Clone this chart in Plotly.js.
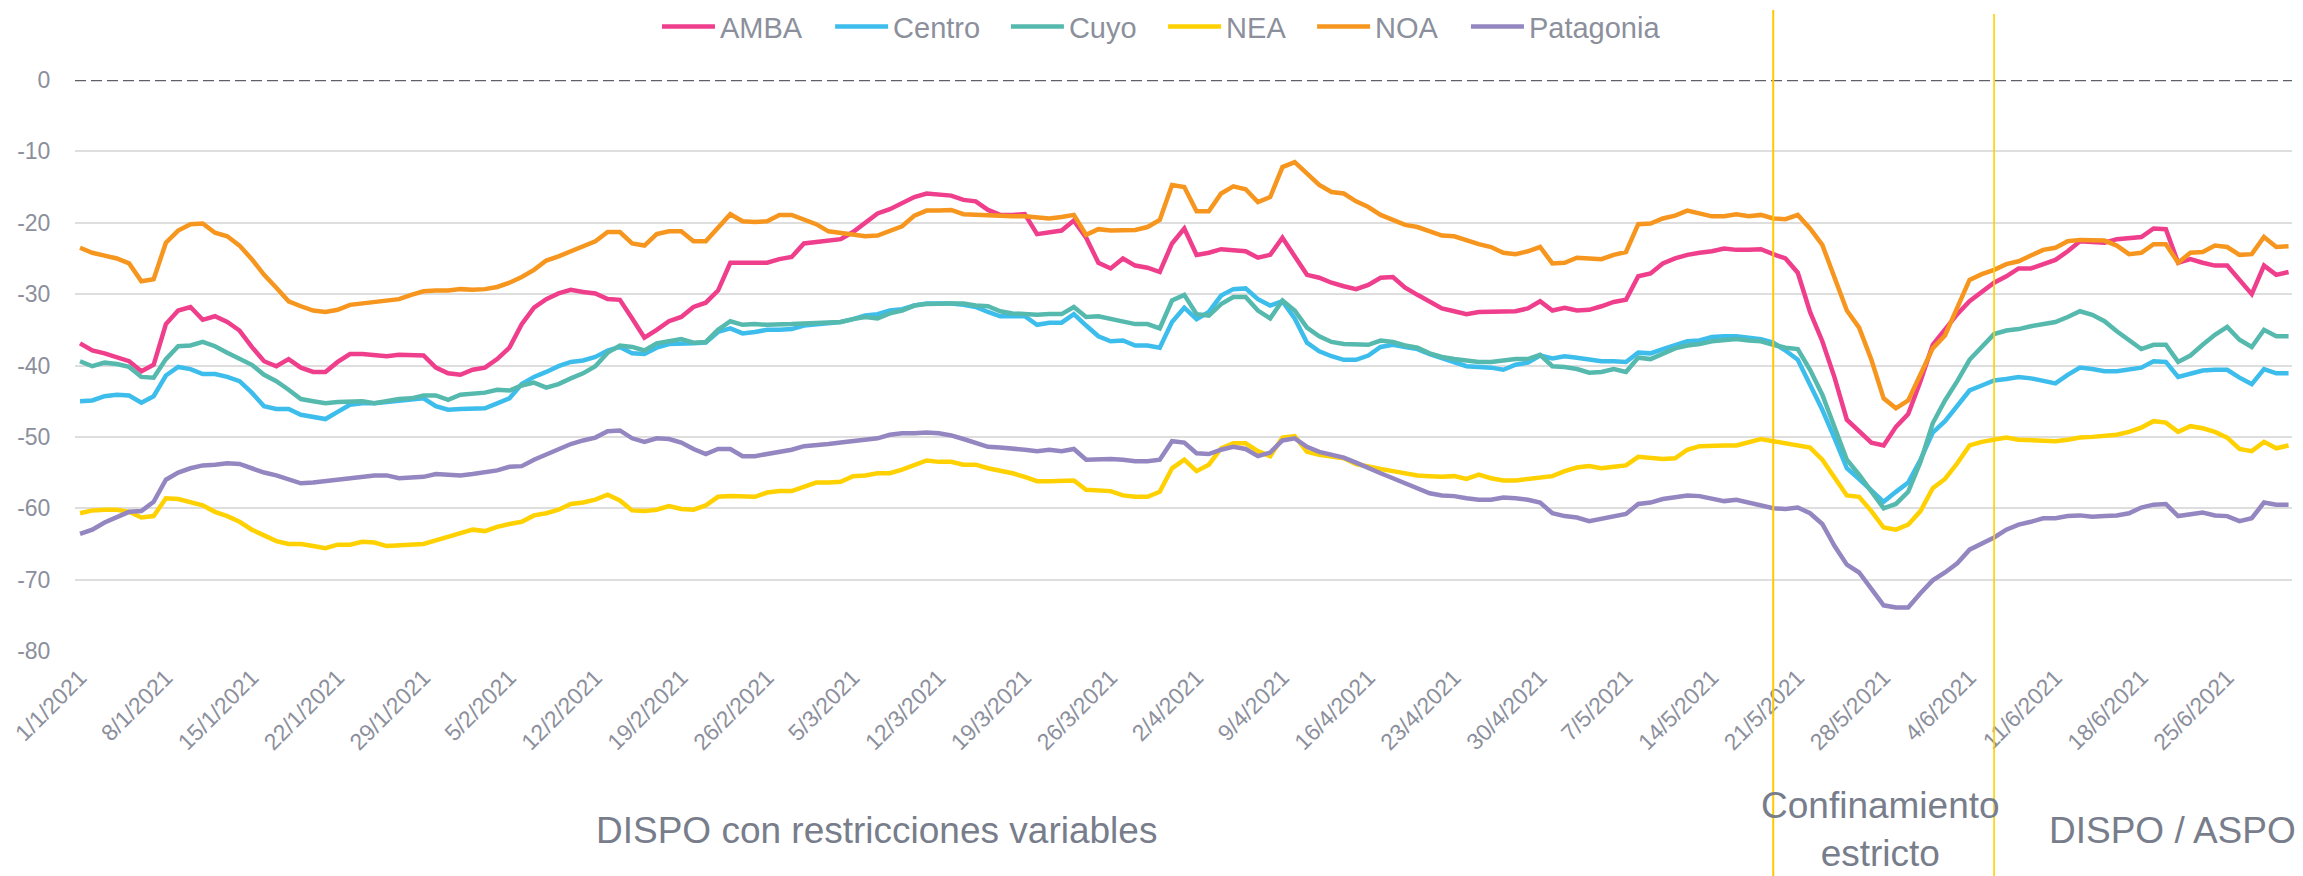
<!DOCTYPE html>
<html>
<head>
<meta charset="utf-8">
<script src="https://cdn.plot.ly/plotly-3.0.1.min.js"></script>
<style>
  html, body { margin: 0; padding: 0; background: #ffffff; }
  #chart { width: 2303px; height: 876px; }
</style>
</head>
<body>
<div id="chart"></div>
<script>
// ---- Data (daily values, 1/1/2021 .. 30/6/2021) ----
const startDate = '2021-01-01';

const AMBA = [
  -36.9, -37.9, -38.3, -38.8, -39.4, -40.8, -39.9, -34.2, -32.3, -31.8, -33.6, -33.1, -33.9, -35.1, -37.4, -39.4, -40.1, -39.1, -40.3, -40.9, -40.9, -39.5, -38.4, -38.4, -38.6, -38.7, -38.5, -38.6, -38.6,
  -40.3, -41.1, -41.3, -40.6, -40.3, -39.1, -37.5, -34.2, -31.9, -30.7, -29.9, -29.4, -29.7, -29.9, -30.7, -30.8, -33.4, -36.1, -35.0, -33.8, -33.2, -31.8, -31.2, -29.5, -25.6, -25.6, -25.7, -25.6, -25.1, -24.8, -22.9,
  -22.7, -22.5, -22.3, -21.3, -19.9, -18.7, -18.1, -17.2, -16.4, -15.9, -16.0, -16.2, -16.8, -17.0, -18.2, -18.9, -18.9, -18.8, -21.6, -21.4, -21.1, -19.7, -22.1, -25.6, -26.4, -25.0, -26.0, -26.3, -26.9, -22.9, -20.8,
  -24.5, -24.2, -23.7, -23.8, -24.0, -24.9, -24.5, -22.1, -24.8, -27.3, -27.7, -28.4, -28.9, -29.3, -28.7, -27.7, -27.6, -29.1, -30.1, -31.1, -32.0, -32.4, -32.8, -32.5, -32.5, -32.5, -32.4, -32.0, -31.0, -32.3, -31.9,
  -32.3, -32.2, -31.7, -31.1, -30.8, -27.5, -27.1, -25.7, -25.0, -24.5, -24.2, -24.0, -23.6, -23.8, -23.8, -23.7, -24.4, -25.0, -27.0, -32.5, -36.6, -41.7, -47.6, -49.2, -50.8, -51.2, -48.6, -46.8, -42.2, -37.1, -35.0,
  -32.8, -31.0, -29.6, -28.4, -27.5, -26.4, -26.4, -25.8, -25.2, -24.0, -22.6, -22.7, -22.8, -22.3, -22.2, -22.0, -20.8, -20.9, -25.6, -25.1, -25.6, -26.0, -26.0, -27.9, -30.0, -26.0, -27.3, -26.9
];

const Centro = [
  -45.0, -44.9, -44.3, -44.1, -44.2, -45.2, -44.3, -41.4, -40.2, -40.5, -41.2, -41.2, -41.6, -42.2, -43.8, -45.7, -46.1, -46.1, -46.9, -47.2, -47.5, -46.5, -45.5, -45.3, -45.3, -45.1, -44.9, -44.8, -44.6,
  -45.7, -46.2, -46.1, -46.0, -46.0, -45.3, -44.6, -42.6, -41.6, -40.9, -40.1, -39.5, -39.3, -38.8, -37.9, -37.4, -38.3, -38.4, -37.5, -37.0, -37.0, -36.9, -36.8, -35.3, -34.8, -35.5, -35.3, -35.0, -35.0, -34.9, -34.4,
  -34.2, -34.0, -33.9, -33.5, -33.0, -32.8, -32.3, -32.1, -31.6, -31.3, -31.3, -31.3, -31.5, -31.8, -32.5, -33.1, -33.1, -33.1, -34.3, -34.0, -34.0, -32.8, -34.4, -35.9, -36.6, -36.5, -37.2, -37.2, -37.5, -33.9, -31.9,
  -33.5, -32.5, -30.2, -29.3, -29.2, -30.7, -31.6, -31.0, -33.4, -36.8, -38.0, -38.7, -39.2, -39.2, -38.6, -37.4, -37.1, -37.4, -37.7, -38.4, -39.0, -39.5, -40.1, -40.2, -40.3, -40.6, -39.9, -39.6, -38.6, -39.0, -38.7,
  -38.9, -39.1, -39.4, -39.4, -39.5, -38.2, -38.3, -37.7, -37.1, -36.6, -36.5, -36.0, -35.9, -35.9, -36.1, -36.3, -36.8, -37.9, -39.2, -42.7, -46.2, -50.2, -54.4, -55.9, -57.5, -59.1, -57.7, -56.4, -53.2, -49.4,
  -47.8, -45.7, -43.5, -42.8, -42.1, -41.9, -41.6, -41.8, -42.1, -42.5, -41.3, -40.3, -40.5, -40.8, -40.8, -40.6, -40.3, -39.4, -39.5, -41.6, -41.1, -40.7, -40.6, -40.6, -41.7, -42.6, -40.5, -41.1, -41.1
];

const Cuyo = [
  -39.4, -40.1, -39.6, -39.8, -40.2, -41.6, -41.7, -39.1, -37.3, -37.2, -36.7, -37.3, -38.2, -39.0, -39.9, -41.3, -42.2, -43.4, -44.7, -45.0, -45.3, -45.1, -45.1, -45.0, -45.3, -45.0, -44.7, -44.6, -44.2,
  -44.2, -44.8, -44.1, -43.9, -43.8, -43.4, -43.5, -42.8, -42.4, -43.1, -42.6, -41.8, -41.1, -40.1, -38.2, -37.2, -37.4, -37.9, -36.9, -36.6, -36.3, -36.8, -36.7, -35.0, -33.8, -34.3, -34.2, -34.3, -34.3, -34.2, -34.1,
  -34.0, -34.0, -33.9, -33.5, -33.2, -33.4, -32.7, -32.3, -31.6, -31.4, -31.3, -31.3, -31.3, -31.6, -31.7, -32.4, -32.7, -32.8, -32.9, -32.8, -32.8, -31.8, -33.2, -33.1, -33.5, -33.8, -34.2, -34.2, -34.8, -30.9, -30.1,
  -32.8, -33.0, -31.4, -30.4, -30.4, -32.3, -33.4, -30.9, -32.3, -34.7, -35.9, -36.7, -37.0, -37.1, -37.1, -36.5, -36.7, -37.2, -37.5, -38.3, -38.8, -39.1, -39.3, -39.5, -39.5, -39.3, -39.1, -39.1, -38.5, -40.1, -40.2,
  -40.5, -41.0, -40.9, -40.5, -40.9, -38.9, -39.1, -38.4, -37.6, -37.2, -37.0, -36.6, -36.4, -36.3, -36.5, -36.6, -37.1, -37.5, -37.7, -40.6, -44.1, -48.6, -53.2, -55.3, -57.7, -60.0, -59.4, -57.7, -53.5, -48.1,
  -44.9, -42.2, -39.2, -37.4, -35.6, -35.1, -34.9, -34.5, -34.2, -33.9, -33.2, -32.4, -32.9, -33.8, -35.2, -36.5, -37.7, -37.1, -37.1, -39.5, -38.6, -37.1, -35.7, -34.6, -36.4, -37.4, -35.0, -35.9, -35.9
];

const NEA = [
  -60.7, -60.3, -60.2, -60.2, -60.5, -61.3, -61.1, -58.6, -58.7, -59.2, -59.6, -60.5, -61.1, -61.9, -63.0, -63.8, -64.6, -65.0, -65.0, -65.3, -65.6, -65.1, -65.1, -64.7, -64.8, -65.3, -65.2, -65.1, -65.0,
  -64.5, -64.0, -63.6, -63.0, -63.2, -62.6, -62.2, -61.9, -61.0, -60.7, -60.2, -59.4, -59.2, -58.8, -58.1, -58.9, -60.3, -60.4, -60.2, -59.7, -60.1, -60.2, -59.6, -58.4, -58.3, -58.4, -58.4, -57.8, -57.6, -57.6, -57.0,
  -56.4, -56.4, -56.3, -55.5, -55.4, -55.1, -55.1, -54.6, -54.0, -53.3, -53.5, -53.5, -53.9, -53.9, -54.4, -54.7, -55.1, -55.6, -56.2, -56.2, -56.2, -56.1, -57.4, -57.5, -57.6, -58.2, -58.4, -58.4, -57.7, -54.4, -53.2,
  -54.8, -53.9, -51.6, -50.9, -50.9, -52.0, -52.7, -50.1, -49.9, -52.1, -52.5, -52.7, -53.0, -53.8, -54.2, -54.5, -54.8, -55.1, -55.4, -55.5, -55.6, -55.5, -55.9, -55.3, -55.8, -56.1, -56.1, -55.9, -55.7, -55.5, -54.8,
  -54.3, -54.1, -54.4, -54.2, -54.0, -52.8, -53.0, -53.1, -53.0, -51.8, -51.3, -51.2, -51.2, -51.2, -50.8, -50.3, -50.6, -50.9, -51.3, -51.5, -53.2, -55.6, -58.2, -58.4, -60.4, -62.7, -63.0, -62.3, -60.4, -57.2,
  -55.9, -53.7, -51.2, -50.7, -50.4, -50.1, -50.4, -50.5, -50.6, -50.6, -50.4, -50.1, -50.0, -49.9, -49.7, -49.3, -48.7, -47.8, -48.0, -49.3, -48.5, -48.8, -49.3, -50.1, -51.7, -52.0, -50.7, -51.6, -51.2
];

const NOA = [
  -23.5, -24.2, -24.6, -25.0, -25.7, -28.2, -27.9, -22.8, -21.1, -20.2, -20.1, -21.4, -21.9, -23.2, -25.1, -27.3, -29.1, -31.0, -31.7, -32.3, -32.5, -32.2, -31.5, -31.3, -31.1, -30.8, -30.7, -30.1, -29.6,
  -29.5, -29.5, -29.3, -29.4, -29.3, -29.0, -28.4, -27.6, -26.6, -25.3, -24.7, -24.0, -23.2, -22.6, -21.3, -21.3, -22.9, -23.2, -21.6, -21.2, -21.2, -22.6, -22.6, -20.6, -18.8, -19.8, -19.9, -19.8, -18.9, -18.9, -19.5,
  -20.2, -21.2, -21.4, -21.6, -21.9, -21.8, -21.2, -20.5, -19.0, -18.3, -18.3, -18.2, -18.8, -18.9, -19.0, -19.1, -19.1, -19.1, -19.3, -19.4, -19.2, -18.9, -21.7, -20.9, -21.1, -21.1, -21.0, -20.6, -19.6, -14.7, -15.0,
  -18.4, -18.4, -15.9, -14.9, -15.3, -17.1, -16.4, -12.2, -11.5, -13.2, -14.7, -15.7, -15.9, -17.0, -17.8, -18.9, -19.6, -20.3, -20.6, -21.2, -21.8, -21.9, -22.5, -23.0, -23.4, -24.2, -24.4, -24.0, -23.4, -25.7, -25.6,
  -24.9, -25.0, -25.1, -24.5, -24.1, -20.2, -20.1, -19.4, -19.0, -18.3, -18.7, -19.1, -19.1, -18.8, -19.1, -18.9, -19.4, -19.5, -18.9, -20.8, -23.1, -27.7, -32.3, -34.7, -39.2, -44.6, -46.0, -44.9, -41.1, -37.6,
  -35.8, -32.0, -28.0, -27.2, -26.6, -25.8, -25.4, -24.6, -23.8, -23.5, -22.6, -22.4, -22.4, -22.5, -23.2, -24.4, -24.2, -23.0, -23.0, -25.6, -24.2, -24.1, -23.2, -23.4, -24.5, -24.4, -22.0, -23.4, -23.3
];

const Patagonia = [
  -63.6, -63.0, -62.0, -61.3, -60.5, -60.4, -59.1, -56.0, -55.0, -54.4, -54.0, -53.9, -53.7, -53.8, -54.4, -55.0, -55.4, -56.0, -56.5, -56.4, -56.2, -56.0, -55.8, -55.7, -55.4, -55.4, -55.8, -55.7, -55.6,
  -55.2, -55.3, -55.4, -55.2, -54.9, -54.7, -54.2, -54.1, -53.2, -52.5, -51.7, -51.0, -50.5, -50.1, -49.2, -49.1, -50.2, -50.7, -50.2, -50.3, -50.8, -51.7, -52.4, -51.7, -51.7, -52.7, -52.7, -52.4, -52.0, -51.8, -51.3,
  -51.2, -51.0, -50.8, -50.6, -50.3, -50.2, -49.7, -49.5, -49.5, -49.4, -49.5, -49.8, -50.3, -50.9, -51.4, -51.5, -51.6, -51.8, -52.0, -51.8, -52.0, -51.7, -53.2, -53.1, -53.1, -53.2, -53.4, -53.4, -53.2, -50.6, -50.8,
  -52.3, -52.4, -51.8, -51.4, -51.7, -52.7, -52.2, -50.5, -50.2, -51.4, -52.1, -52.5, -52.9, -53.6, -54.4, -55.1, -55.8, -56.5, -57.3, -57.9, -58.2, -58.3, -58.6, -58.8, -58.8, -58.5, -58.6, -58.8, -59.2, -60.7, -61.1,
  -61.3, -61.8, -61.5, -61.2, -60.8, -59.4, -59.2, -58.7, -58.4, -58.2, -58.3, -58.7, -59.0, -58.8, -59.2, -59.5, -60.0, -60.1, -59.9, -60.7, -62.2, -65.3, -67.9, -69.0, -71.4, -73.6, -73.9, -73.9, -71.9, -70.1,
  -69.0, -67.7, -65.8, -65.0, -64.1, -63.0, -62.3, -61.9, -61.4, -61.4, -61.1, -61.0, -61.2, -61.1, -61.0, -60.7, -59.9, -59.5, -59.4, -61.1, -60.8, -60.6, -61.0, -61.1, -61.8, -61.4, -59.2, -59.5, -59.5
];

const seriesNames = ['AMBA', 'Centro', 'Cuyo', 'NEA', 'NOA', 'Patagonia'];
const seriesValues = [AMBA, Centro, Cuyo, NEA, NOA, Patagonia];
const seriesColors = ['#EF3E8B', '#3DBDEC', '#55B9AE', '#FFD100', '#F7961E', '#9486C0'];

const yTickVals = [0, -10, -20, -30, -40, -50, -60, -70, -80];
const yTickText = ['0', '-10', '-20', '-30', '-40', '-50', '-60', '-70', '-80'];

const periodLabels = ['DISPO con restricciones variables', 'Confinamiento<br>estricto', 'DISPO / ASPO'];
const periodMarkers = ['2021-05-19', '2021-06-06'];

// ---- Dates (x categories) ----
const dates = [];
for (let i = 0; i < AMBA.length; i++) {
  const d = new Date(Date.UTC(2021, 0, 1 + i));
  dates.push(d.toISOString().slice(0, 10));
}

const FONT = '"Liberation Sans", Arial, sans-serif';
const GREY = '#8C8F9C';
const TEXTGREY = '#787D8B';

// one legend per series so that every entry sits where the reference shows it
const legendIds = ['legend', 'legend2', 'legend3', 'legend4', 'legend5', 'legend6'];
const legendX = [0.2625, 0.3406, 0.4199, 0.4908, 0.5580, 0.6274];

const traces = seriesNames.map((name, i) => ({
  type: 'scatter',
  mode: 'lines',
  name: name,
  x: dates,
  y: seriesValues[i],
  line: { color: seriesColors[i], width: 4.5 },
  legend: legendIds[i],
  hoverinfo: 'skip'
}));

const layout = {
  width: 2303,
  height: 876,
  margin: { l: 75, r: 11, t: 80, b: 225, pad: 0, autoexpand: false },
  paper_bgcolor: '#ffffff',
  plot_bgcolor: '#ffffff',
  font: { family: FONT, color: GREY, size: 23 },
  showlegend: true,
  xaxis: {
    type: 'date',
    range: ['2020-12-31 14:10', '2021-06-30 06:45'],
    tick0: startDate,
    dtick: 7 * 86400000,
    tickformat: '%-d/%-m/%Y',
    tickangle: -45,
    tickfont: { family: FONT, size: 23, color: GREY },
    ticks: 'outside', ticklen: 3, tickcolor: 'rgba(0,0,0,0)',
    showgrid: false, zeroline: false, showline: false,
    fixedrange: true
  },
  yaxis: {
    range: [-80, 0],
    tickvals: yTickVals,
    ticktext: yTickText,
    tickfont: { family: FONT, size: 23, color: GREY },
    ticks: 'outside', ticklen: 19, tickcolor: 'rgba(0,0,0,0)',
    showgrid: true, gridcolor: '#DEDEDE', gridwidth: 2,
    zeroline: false, showline: false,
    fixedrange: true
  },
  shapes: [
    { type: 'line', xref: 'paper', yref: 'y', x0: 0, x1: 1, y0: 0, y1: 0,
      line: { color: '#5E5F67', width: 2.5, dash: '11px,5px' }, layer: 'above' },
    { type: 'line', xref: 'x', yref: 'paper', x0: periodMarkers[0], x1: periodMarkers[0], y0: -0.394, y1: 1.1226,
      line: { color: '#FFC800', width: 2 }, layer: 'above' },
    { type: 'line', xref: 'x', yref: 'paper', x0: periodMarkers[1], x1: periodMarkers[1], y0: -0.394, y1: 1.1156,
      line: { color: '#FFD000', width: 1.6 }, layer: 'above' }
  ],
  annotations: [
    { text: periodLabels[0], xref: 'paper', yref: 'paper', x: 0.3613, y: -0.3152,
      xanchor: 'center', yanchor: 'middle', showarrow: false,
      font: { family: FONT, size: 37, color: TEXTGREY } },
    { text: periodLabels[1], xref: 'paper', yref: 'paper', x: 0.8146, y: -0.394,
      xanchor: 'center', yanchor: 'bottom', showarrow: false, align: 'center',
      font: { family: FONT, size: 37, color: TEXTGREY } },
    { text: periodLabels[2], xref: 'paper', yref: 'paper', x: 0.9463, y: -0.3152,
      xanchor: 'center', yanchor: 'middle', showarrow: false,
      font: { family: FONT, size: 37, color: TEXTGREY } }
  ]
};

legendIds.forEach((id, i) => {
  layout[id] = {
    orientation: 'h',
    xref: 'paper', yref: 'container',
    x: legendX[i], xanchor: 'left',
    y: 0.9695, yanchor: 'middle',
    font: { family: FONT, size: 29, color: GREY },
    itemwidth: 53,
    bgcolor: 'rgba(0,0,0,0)'
  };
});

Plotly.newPlot('chart', traces, layout, { staticPlot: true, displayModeBar: false });
</script>
</body>
</html>
